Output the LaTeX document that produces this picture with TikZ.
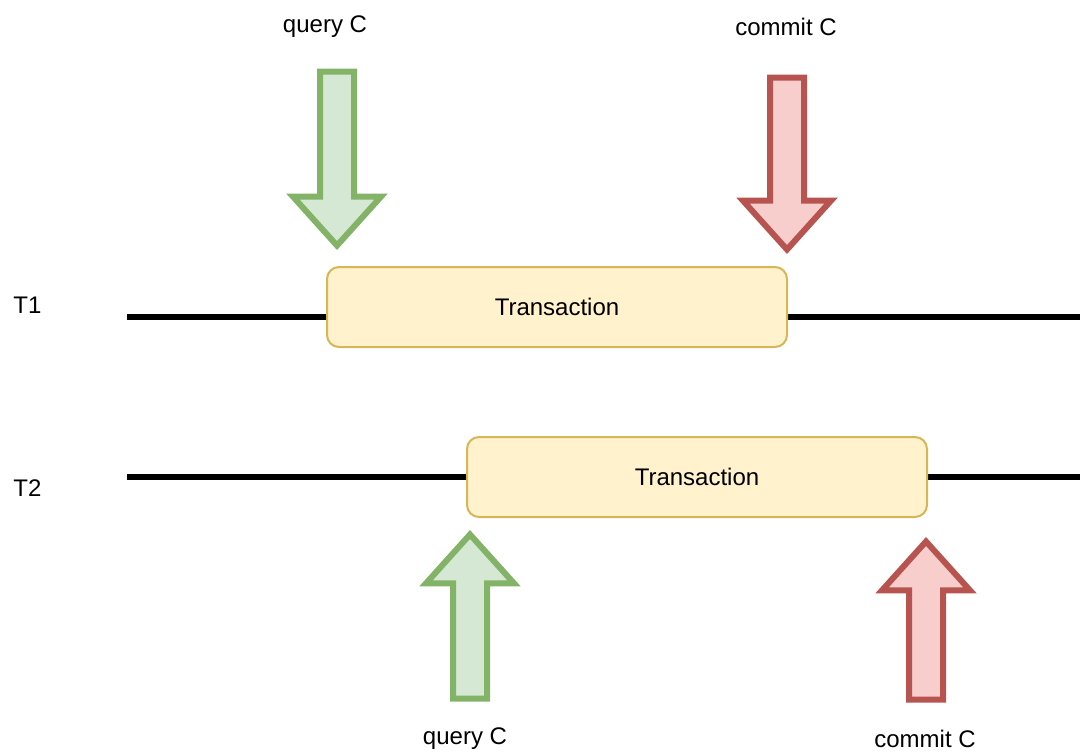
\documentclass[tikz,border=0pt]{standalone}
\usepackage{fontspec}
\setmainfont{Liberation Sans}
\usetikzlibrary{shapes.arrows,positioning}
\definecolor{txfill}{HTML}{FFF2CC}
\definecolor{txline}{HTML}{D6B656}
\definecolor{qfill}{HTML}{D5E8D4}
\definecolor{qline}{HTML}{82B366}
\definecolor{cfill}{HTML}{F8CECC}
\definecolor{cline}{HTML}{B85450}

\begin{document}
\begin{tikzpicture}[x=0.5pt,y=-0.5pt]
\useasboundingbox (0,0) rectangle (1080,751);

\tikzset{
  label/.style={font=\fontsize{12}{14}\selectfont,inner sep=0pt},
  timeline/.style={line width=3pt},
  txbox/.style={draw=txline,fill=txfill,line width=1pt,rounded corners=6pt,
    minimum width=230pt,minimum height=40pt,font=\fontsize{12}{14}\selectfont},
  bigarrow/.style={single arrow,line width=3pt,inner xsep=0pt,inner ysep=7pt,
    single arrow head extend=13.5pt,
    single arrow tip angle=84,anchor=tip},
  queryarrow/.style={bigarrow,draw=qline,fill=qfill},
  commitarrow/.style={bigarrow,draw=cline,fill=cfill}
}

% time lines
\coordinate (s1) at (127,317);
\coordinate (e1) at (1080,317);
\coordinate (s2) at (127,477);
\coordinate (e2) at (1080,477);
\draw[timeline] (s1) -- (e1);
\draw[timeline] (s2) -- (e2);

\node[label,anchor=west] (t1) at (13,305) {T1};
\node[label,anchor=west] (t2) at (13,488) {T2};

% transactions
\node[txbox] (tx1) at (557,307) {Transaction};
\node[txbox] (tx2) at (697,477) {Transaction};

% T1 query / commit
\node[queryarrow,rotate=-90,minimum height=87pt] (q1) at (337,250) {};
\node[commitarrow,rotate=-90,minimum height=86pt] (c1) at (787,254) {};
\node[label] (ql1) at (325,27) {query C};
\node[label] (cl1) at (786,27) {commit C};

% T2 query / commit
\node[queryarrow,rotate=90,minimum height=82pt] (q2) at (470,530) {};
\node[commitarrow,rotate=90,minimum height=79pt] (c2) at (926,537) {};
\node[label] (ql2) at (465,739) {query C};
\node[label] (cl2) at (925,739) {commit C};
\end{tikzpicture}
\end{document}
